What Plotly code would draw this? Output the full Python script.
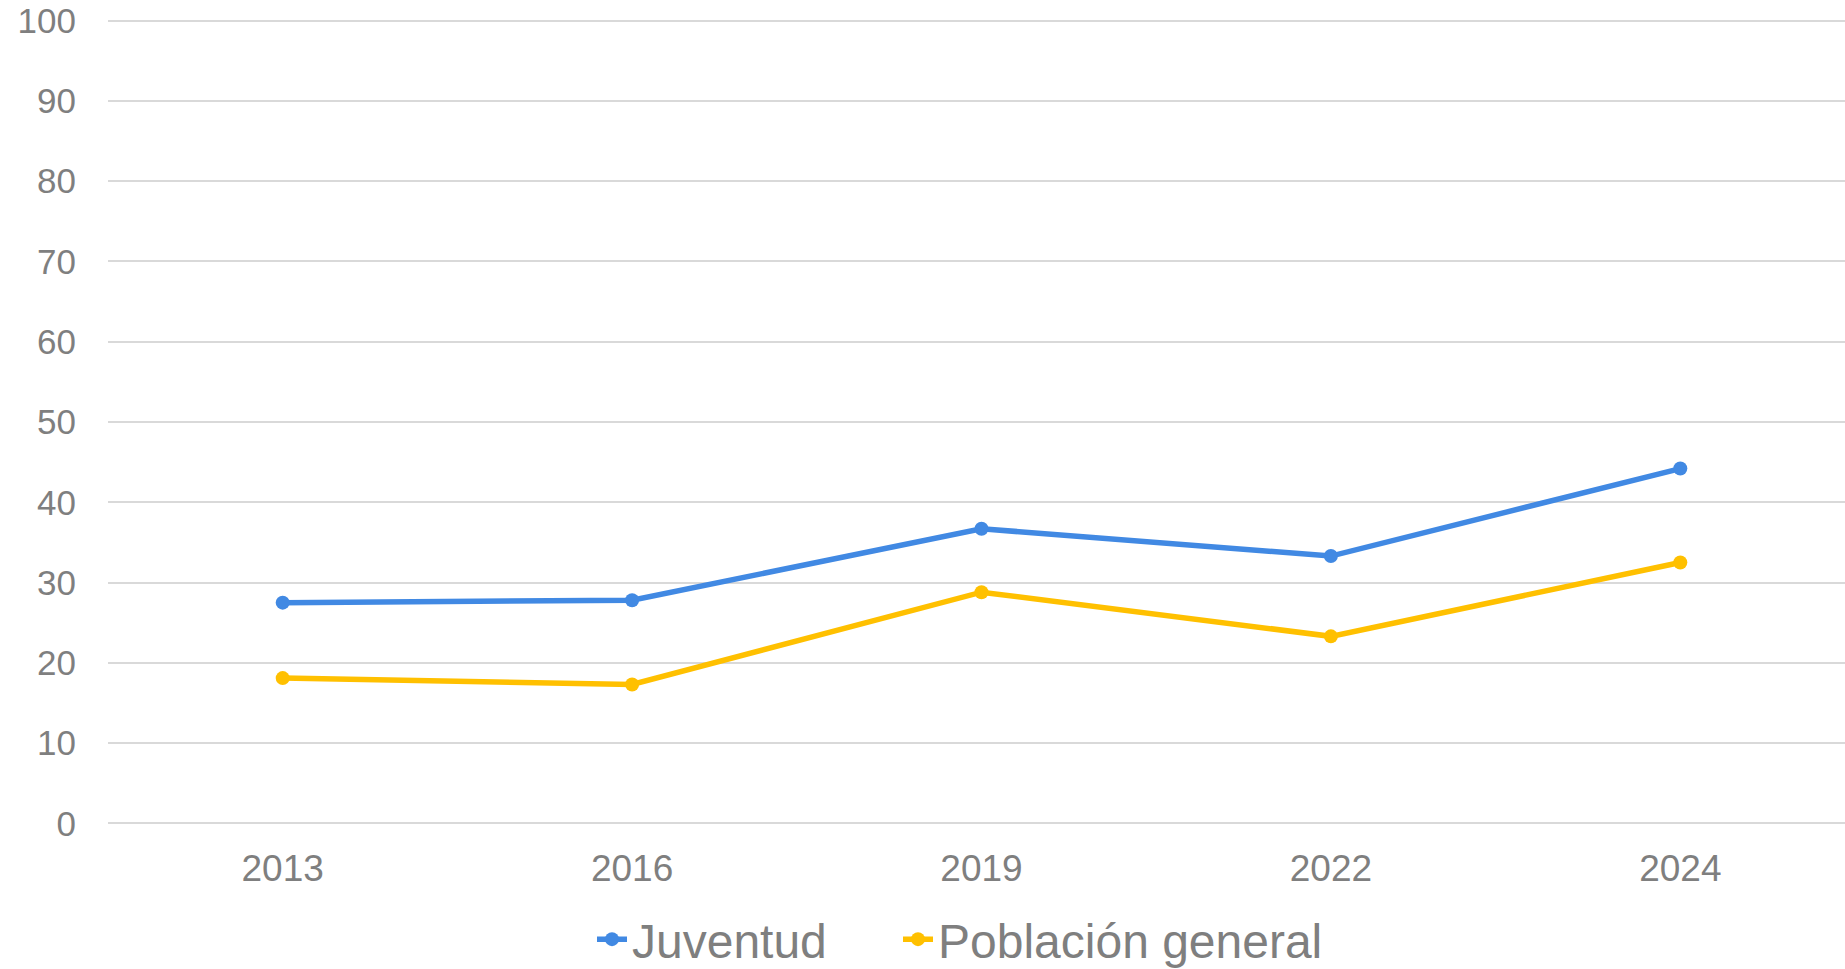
import plotly.graph_objects as go

years = ["2013", "2016", "2019", "2022", "2024"]
juventud = [27.5, 27.8, 36.7, 33.3, 44.2]
poblacion = [18.1, 17.3, 28.8, 23.3, 32.5]
series_names = ["Juventud", "Población general"]
y_ticks = [0, 10, 20, 30, 40, 50, 60, 70, 80, 90, 100]

BLUE = "#4189E3"
YELLOW = "#FFC000"
GRAY = "#7F7F7F"
FONT = "Liberation Sans, Arial, sans-serif"

fig = go.Figure()
for name, vals, col, lg in [(series_names[0], juventud, BLUE, "legend"),
                            (series_names[1], poblacion, YELLOW, "legend2")]:
    fig.add_trace(go.Scatter(
        x=years, y=vals, name=name, mode="lines+markers",
        line=dict(color=col, width=5.5),
        marker=dict(color=col, size=14),
        legend=lg,
    ))

leg_common = dict(
    orientation="h", xanchor="left", y=-0.142, yanchor="middle",
    font=dict(size=48, color=GRAY, family=FONT),
    bgcolor="rgba(0,0,0,0)",
)

# plot area: left at 108, right at 1855 (slightly past the visible window)
L = 108
PW = 1747.0
fig.update_layout(
    width=1855, height=969,
    margin=dict(l=L, r=0, t=19.4, b=144.4, pad=0, autoexpand=False),
    paper_bgcolor="white", plot_bgcolor="white",
    font=dict(family=FONT, color=GRAY, size=37),
    showlegend=True,
    legend=dict(x=(592 - L) / PW, **leg_common),
    legend2=dict(x=(898 - L) / PW, **leg_common),
    xaxis=dict(
        type="category", range=[-0.5, 4.5], showgrid=False, zeroline=False,
        showline=False, ticks="", tickfont=dict(size=37, color=GRAY),
        ticklabelstandoff=18,
    ),
    yaxis=dict(
        range=[-0.2, 100.2], tickvals=y_ticks, showgrid=True, gridcolor="#D9D9D9",
        gridwidth=1.5, zeroline=False, showline=False, ticks="",
        tickfont=dict(size=35, color=GRAY), ticklabelstandoff=31,
        ticklabeloverflow="allow",
    ),
)

fig.write_html(
    "out.html",
    config={"displayModeBar": False},
    post_script="document.body.style.margin='0';document.body.style.overflow='hidden';",
)
